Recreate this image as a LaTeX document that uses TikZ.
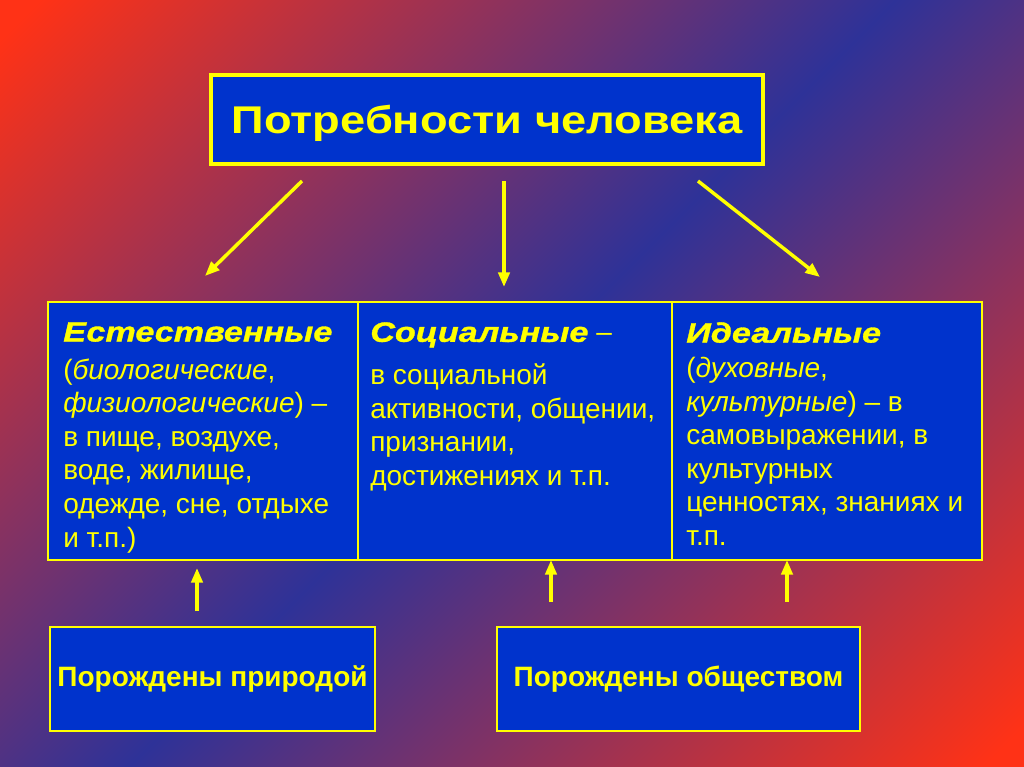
\documentclass[tikz,border=0pt]{standalone}
\usepackage{fontspec}
\setmainfont{Liberation Sans}
\newfontfamily\headfont[FakeStretch=1.22,FakeBold=1.2]{Liberation Sans Bold Italic}
\newfontfamily\titlefont[FakeStretch=1.17]{Liberation Sans Bold}
\usetikzlibrary{arrows.meta}

\definecolor{bgred}{RGB}{255,50,22}
\definecolor{bgblue}{RGB}{46,50,152}
\definecolor{cellblue}{RGB}{0,51,204}
\definecolor{lineyellow}{RGB}{255,255,0}

\pgfdeclarehorizontalshading{slideshade}{100bp}{color(0bp)=(bgred); color(16bp)=(bgred);
  color(50bp)=(bgblue); color(84bp)=(bgred); color(100bp)=(bgred)}

\newcommand{\head}[1]{{\headfont\fontsize{21}{25.2}\selectfont #1}}

\tikzset{
  needbox/.style={draw=lineyellow, fill=cellblue, text=lineyellow, line width=1.2pt},
  celltext/.style={text=lineyellow, anchor=north west, inner sep=0pt, align=left,
    font=\fontsize{21}{25.2}\selectfont},
  link/.style={->, draw=lineyellow, line width=2.6pt}
}

\begin{document}
\begin{tikzpicture}[x=0.75pt, y=-0.75pt, >={Triangle[length=11pt,width=8.5pt]}]
\shade[shading=slideshade, shading angle=-45] (0pt,0pt) rectangle (768pt,-575.25pt);
\useasboundingbox (0,0) rectangle (1024,767);

% top box
\node[needbox, line width=3pt, minimum width=414pt, minimum height=66.75pt, text depth=0pt,
  font=\titlefont\fontsize{29}{34}\selectfont] (needs) at (487,119.5) {Потребности человека};

% table
\node[needbox, minimum width=232.5pt, minimum height=193.5pt] (natur) at (203,431) {};
\node[needbox, minimum width=235.5pt, minimum height=193.5pt] (soc) at (515,431) {};
\node[needbox, minimum width=232.5pt, minimum height=193.5pt] (ideal) at (827,431) {};

\node[celltext] (naturtxt) at (63,322) {\head{Естественные}\\[3pt]
  (\textit{биологические},\\
  \textit{физиологические}) –\\
  в пище, воздухе,\\
  воде, жилище,\\
  одежде, сне, отдыхе\\
  и т.п.)};
\node[celltext] (soctxt) at (370,322) {\head{Социальные} –\\[7pt]
  в социальной\\
  активности, общении,\\
  признании,\\
  достижениях и т.п.};
\node[celltext] (idealtxt) at (686,322) {\head{Идеальные}\\[1pt]
  (\textit{духовные},\\
  \textit{культурные}) – в\\
  самовыражении, в\\
  культурных\\
  ценностях, знаниях и\\
  т.п.};

% bottom boxes
\node[needbox, minimum width=243.75pt, minimum height=78pt,
  font=\fontsize{21}{24}\selectfont\bfseries] (nature) at (212.5,679) {Порождены природой};
\node[needbox, minimum width=272.25pt, minimum height=78pt,
  font=\fontsize{21}{24}\selectfont\bfseries] (society) at (678.5,679) {Порождены обществом};

% arrow ends
\coordinate (d1) at (302,181);
\coordinate (d2) at (504,181);
\coordinate (d3) at (698,181);
\coordinate (e1) at (205,276);
\coordinate (e2) at (504,287);
\coordinate (e3) at (820,277);
\coordinate (u1) at (197,611);
\coordinate (v1) at (197,568);
\coordinate (u2) at (551,602);
\coordinate (v2) at (551,560);
\coordinate (u3) at (787,602);
\coordinate (v3) at (787,560);

\draw[link] (d1) -- (e1);
\draw[link] (d2) -- (e2);
\draw[link] (d3) -- (e3);
\draw[link] (u1) -- (v1);
\draw[link] (u2) -- (v2);
\draw[link] (u3) -- (v3);
\end{tikzpicture}
\end{document}
